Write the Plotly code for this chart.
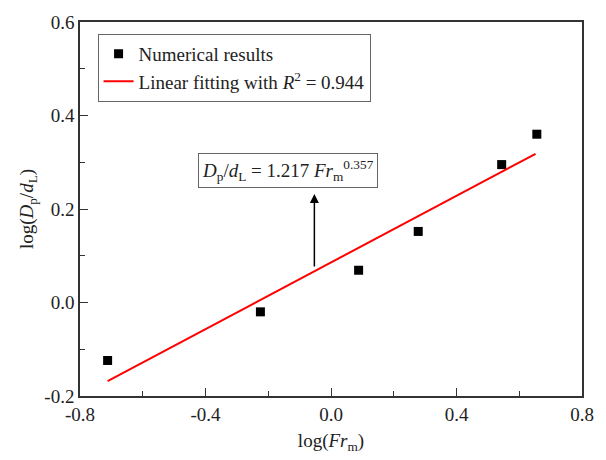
import plotly.graph_objects as go

# Data
log_fr = [-0.712, -0.225, 0.088, 0.278, 0.544, 0.656]
log_dp = [-0.124, -0.020, 0.069, 0.152, 0.295, 0.360]
fit_x = [-0.712, 0.652]
fit_y = [-0.168, 0.318]
x_ticks = [-0.8, -0.4, 0.0, 0.4, 0.8]
x_labels = ["-0.8", "-0.4", "0.0", "0.4", "0.8"]
y_ticks = [-0.2, 0.0, 0.2, 0.4, 0.6]
y_labels = ["-0.2", "0.0", "0.2", "0.4", "0.6"]

font = "Liberation Serif"
txt = "#222"

fig = go.Figure()
fig.add_trace(go.Scatter(x=log_fr, y=log_dp, mode="markers", name="Numerical results",
                         marker=dict(symbol="square", size=9, color="black")))
fig.add_trace(go.Scatter(x=fit_x, y=fit_y, mode="lines",
                         name="Linear fitting with <i>R</i><sup>2</sup> = 0.944",
                         line=dict(color="red", width=2)))

axis_common = dict(showline=True, linecolor="#333", linewidth=1.5, mirror=True,
                   ticks="inside", ticklen=8, tickwidth=1.2, tickcolor="#333",
                   showgrid=False, zeroline=False,
                   tickfont=dict(family=font, size=19, color=txt),
                   minor=dict(ticks="inside", ticklen=5, tickwidth=1.2, tickcolor="#333"))

fig.update_xaxes(range=[-0.8, 0.8], tickvals=x_ticks, ticktext=x_labels,
                 minor_dtick=0.2,
                 title=dict(text="log(<i>Fr</i><sub>m</sub>)", font=dict(family=font, size=19, color=txt), standoff=10),
                 **axis_common)
fig.update_yaxes(range=[-0.2, 0.6], tickvals=y_ticks, ticktext=y_labels,
                 minor_dtick=0.1,
                 title=dict(text="log(<i>D</i><sub>p</sub>/<i>d</i><sub>L</sub>)", font=dict(family=font, size=19, color=txt), standoff=6),
                 **axis_common)

fig.add_annotation(x=-0.137, y=0.283, xref="x", yref="y",
                   text="<i>D</i><sub>p</sub>/<i>d</i><sub>L</sub> = 1.217 <i>Fr</i><sub>m</sub><sup>0.357</sup>",
                   showarrow=False, font=dict(family=font, size=19, color=txt),
                   bordercolor="#666", borderwidth=1, borderpad=3, bgcolor="white")
fig.add_annotation(x=-0.053, y=0.232, ax=-0.053, ay=0.074, xref="x", yref="y",
                   axref="x", ayref="y", text="", showarrow=True,
                   arrowhead=2, arrowsize=1.2, arrowwidth=1.5, arrowcolor="black")

fig.update_layout(width=606, height=460, margin=dict(l=80, r=14, t=15, b=64),
                  plot_bgcolor="white", paper_bgcolor="white",
                  showlegend=True,
                  legend=dict(x=0.035, y=0.9685, xanchor="left", yanchor="top",
                              bordercolor="#666", borderwidth=1, bgcolor="white",
                              font=dict(family=font, size=19, color=txt),
                              tracegroupgap=0, itemwidth=30))

fig.write_html("out.html")
